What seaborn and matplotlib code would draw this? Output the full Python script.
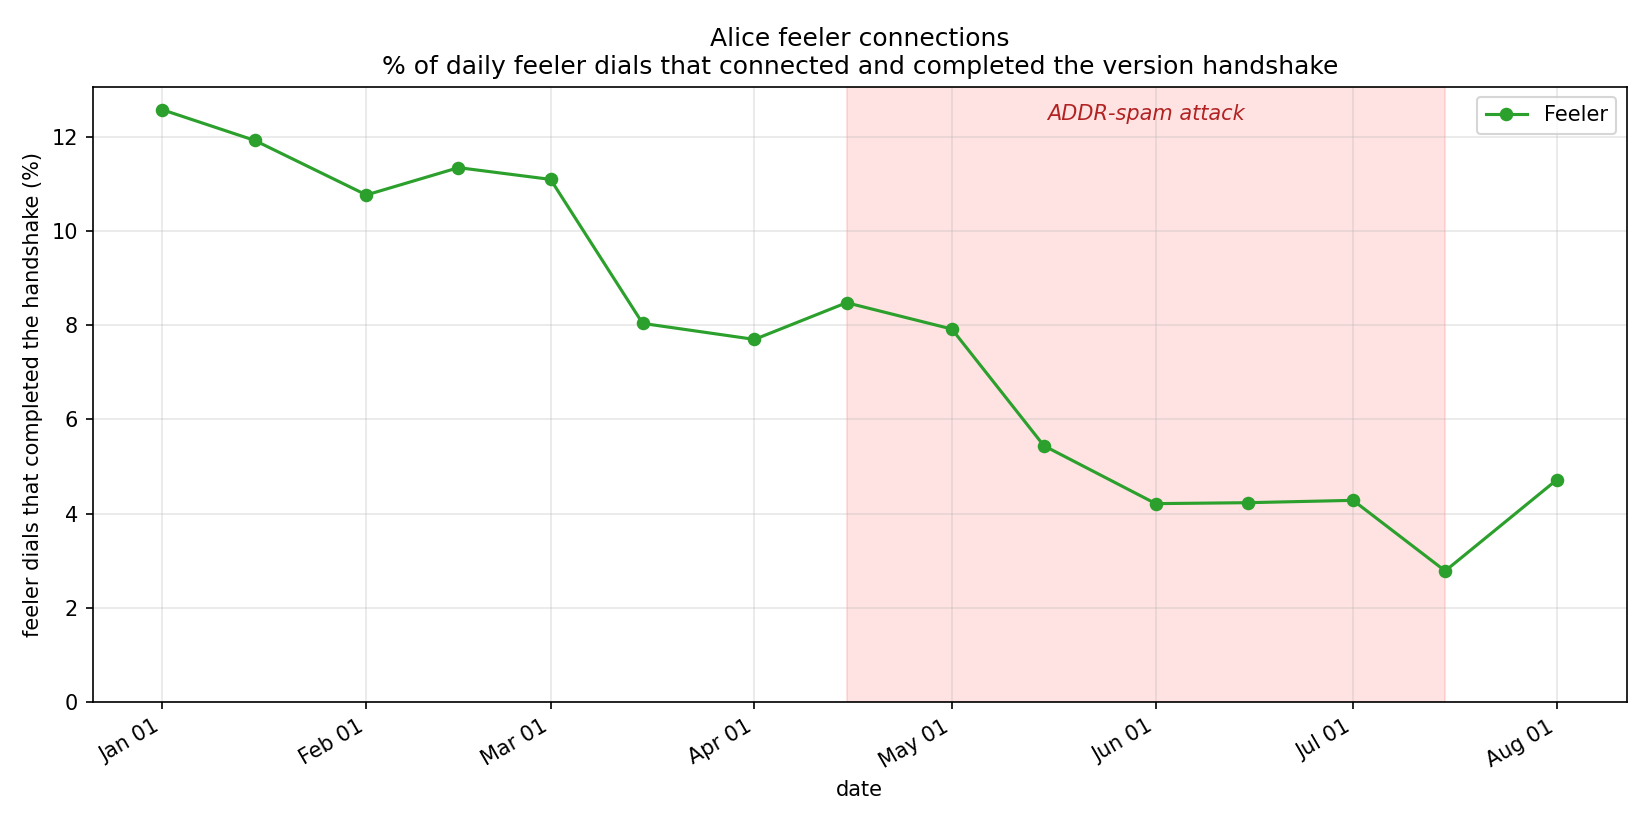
import matplotlib
matplotlib.use("Agg")
import matplotlib.pyplot as plt
import matplotlib.dates as mdates
import seaborn as sns
import pandas as pd

dates = ["2023-01-01", "2023-01-15", "2023-02-01", "2023-02-15", "2023-03-01",
         "2023-03-15", "2023-04-01", "2023-04-15", "2023-05-01", "2023-05-15",
         "2023-06-01", "2023-06-15", "2023-07-01", "2023-07-15", "2023-08-01"]
feeler_pct = [12.58, 11.93, 10.77, 11.35, 11.10, 8.04, 7.70, 8.48, 7.92, 5.44,
              4.21, 4.23, 4.28, 2.78, 4.72]
attack_start = "2023-04-15"
attack_end = "2023-07-15"
attack_label = "ADDR-spam attack"

df = pd.DataFrame({"date": pd.to_datetime(dates), "pct": feeler_pct})

plt.rcdefaults()
plt.rcParams['font.family'] = ['DejaVu Sans']
fig, ax = plt.subplots(figsize=(11, 5.5), dpi=150)

s0, s1 = pd.Timestamp(attack_start), pd.Timestamp(attack_end)
ax.axvspan(s0, s1, color="red", alpha=0.11, zorder=0)

sns.lineplot(data=df, x="date", y="pct", ax=ax, color="#2ca02c", marker="o",
             markersize=6.5, markeredgewidth=0, linewidth=1.5, label="Feeler")

ax.set_ylim(bottom=0)
ax.grid(True, alpha=0.3)
ax.set_axisbelow(True)

ax.text(s0 + (s1 - s0) / 2, 0.955, attack_label, transform=ax.get_xaxis_transform(),
        ha="center", va="center", style="italic", color="#b22222", fontsize=10)

ax.xaxis.set_major_locator(mdates.MonthLocator())
ax.xaxis.set_major_formatter(mdates.DateFormatter("%b %d"))
fig.autofmt_xdate()
ax.set_xlabel("date")
ax.set_ylabel("feeler dials that completed the handshake (%)")
ax.set_title("Alice feeler connections\n% of daily feeler dials that connected and completed the version handshake")
ax.legend(loc="upper right")
fig.subplots_adjust(left=0.0562, right=0.9859, top=0.8949, bottom=0.1494)
fig.savefig("out.png", dpi=150)
